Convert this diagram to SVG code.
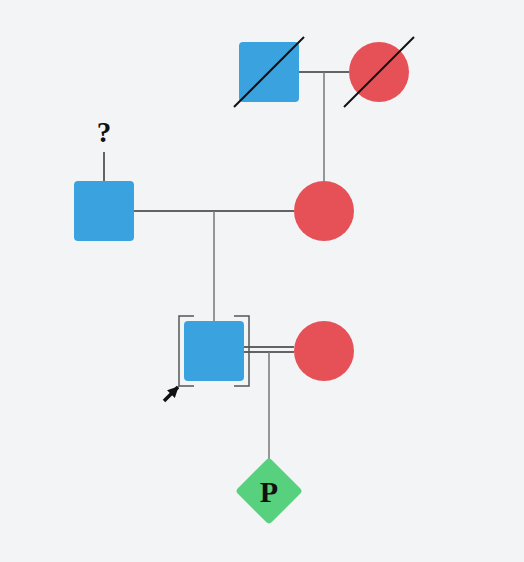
<svg xmlns="http://www.w3.org/2000/svg" width="524" height="562" viewBox="0 0 524 562">
<style>
.m{fill:#3AA3DF}
.f{fill:#E65157}
.p{fill:#58D17E}
.dark{stroke:#333;stroke-width:1.5;fill:none}
.grey{stroke:#777;stroke-width:1.5;fill:none}
.brk{stroke:#555;stroke-width:1.5;fill:none}
.dead{stroke:#111;stroke-width:2;fill:none}
.lbl{font-family:"Liberation Serif","DejaVu Serif",serif;font-weight:bold;fill:#111;text-anchor:middle}
</style>
<defs>
<marker id="ah" markerWidth="12" markerHeight="12" refX="10" refY="6" orient="auto" markerUnits="userSpaceOnUse">
<path d="M0,0.5 L11,6 L0,11.5 z" fill="#111"/>
</marker>
</defs>
<rect width="524" height="562" fill="#F3F4F6"/>
<g id="connectors">
<line class="dark" x1="299" y1="72" x2="349" y2="72"/>
<line class="grey" x1="324" y1="72" x2="324" y2="142"/>
<line class="grey" x1="324" y1="142" x2="324" y2="181"/>
<line class="dark" x1="134" y1="211" x2="294" y2="211"/>
<line class="grey" x1="214" y1="211" x2="214" y2="281"/>
<line class="grey" x1="214" y1="281" x2="214" y2="321"/>
<line class="dark" x1="244" y1="347" x2="294" y2="347"/>
<line class="dark" x1="244" y1="352" x2="294" y2="352"/>
<line class="grey" x1="269" y1="352" x2="269" y2="422"/>
<line class="grey" x1="269" y1="422" x2="269" y2="459"/>
</g>
<g id="grandfather">
<rect class="m" x="239" y="42" width="60" height="60" rx="4"/>
<line class="dead" x1="234" y1="107" x2="304" y2="37"/>
</g>
<g id="grandmother">
<circle class="f" cx="379" cy="72" r="30"/>
<line class="dead" x1="344" y1="107" x2="414" y2="37"/>
</g>
<g id="father">
<line class="dark" x1="104" y1="152" x2="104" y2="181"/>
<text class="lbl" x="104" y="142" font-size="29">?</text>
<rect class="m" x="74" y="181" width="60" height="60" rx="4"/>
</g>
<g id="mother">
<circle class="f" cx="324" cy="211" r="30"/>
</g>
<g id="proband">
<rect class="m" x="184" y="321" width="60" height="60" rx="4"/>
<path class="brk" d="M194,316 H179 V386 H194 M234,316 H249 V386 H234"/>
<line x1="164" y1="401" x2="178" y2="387" stroke="#111" stroke-width="3.5" marker-end="url(#ah)"/>
</g>
<g id="spouse">
<circle class="f" cx="324" cy="351" r="30"/>
</g>
<g id="pregnancy">
<rect class="p" x="245" y="467" width="48" height="48" rx="4" transform="rotate(45 269 491)"/>
<text class="lbl" x="269" y="502" font-size="30">P</text>
</g>
</svg>
